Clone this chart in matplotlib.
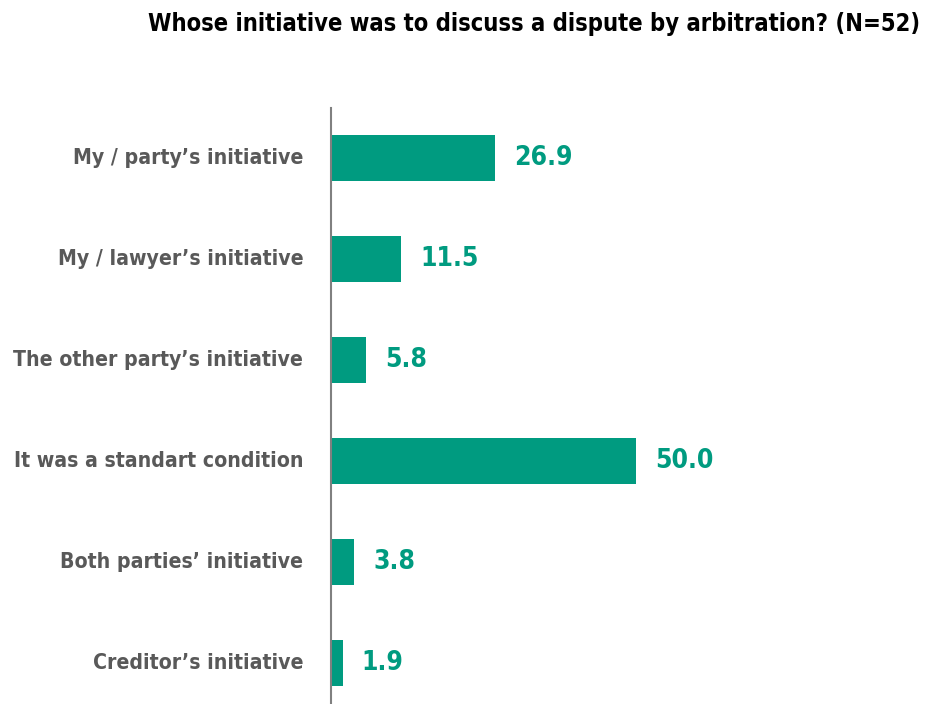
import matplotlib
matplotlib.use("Agg")
import matplotlib.pyplot as plt

categories = ["My / party’s initiative", "My / lawyer’s initiative", "The other party’s initiative",
              "It was a standart condition", "Both parties’ initiative", "Creditor’s initiative"]
values = [26.9, 11.5, 5.8, 50.0, 3.8, 1.9]
title = "Whose initiative was to discuss a dispute by arbitration? (N=52)"

color = "#009B80"
plt.rcParams['font.family'] = ['DejaVu Sans']

fig = plt.figure(figsize=(9.39, 7.04), dpi=100)
ax = fig.add_axes([331/939, 0, 1 - 331/939, 1 - 108/704])
y = list(range(len(categories)))
ax.barh(y, values, height=0.455, color=color)
ax.set_ylim(5.406, -0.5)
ax.set_xlim(0, 99.7)
for s in ["top", "right", "bottom"]:
    ax.spines[s].set_visible(False)
ax.spines["left"].set_color("#808080")
ax.spines["left"].set_linewidth(1.5)
ax.set_xticks([])
ax.set_yticks(y)
ax.set_yticklabels(categories, fontsize=15.2, fontweight="bold", color="#595959", fontstretch="condensed")
for lbl in ax.get_yticklabels():
    lbl.set_verticalalignment("center")
ax.tick_params(axis="y", length=0, pad=20)
for yi, v in zip(y, values):
    ax.annotate(f"{v:.1f}", (v, yi), xytext=(19, 0), textcoords="offset pixels",
                va="center", ha="left", fontsize=19, fontweight="bold", color=color, fontstretch="condensed")
fig.text(534/939, 1 - 24/704, title, ha="center", va="center", fontsize=17, fontweight="bold",
         color="black", fontstretch="condensed")
fig.savefig("out.png", dpi=100)
